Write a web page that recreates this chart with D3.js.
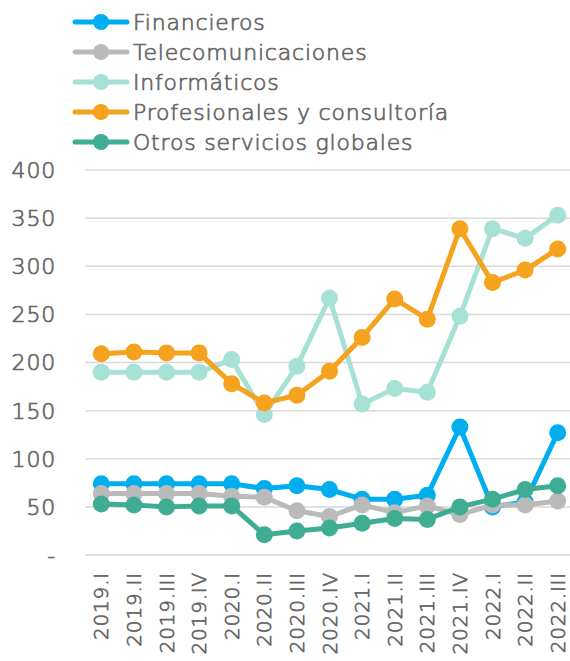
<!DOCTYPE html>
<html>
<head>
<meta charset="utf-8">
<script src="https://cdn.jsdelivr.net/npm/d3@7"></script>
<style>
  body { margin: 0; background: #fff; }
  text { font-family: "DejaVu Sans", sans-serif; font-weight: 200; fill: #666; stroke: #666; stroke-width: 0.7px; }
</style>
</head>
<body>
<svg id="chart"></svg>
<script>
// quarters on the x axis
const quarters =
    [ '2019.I', '2019.II', '2019.III', '2019.IV'
    , '2020.I', '2020.II', '2020.III', '2020.IV'
    , '2021.I', '2021.II', '2021.III', '2021.IV'
    , '2022.I', '2022.II', '2022.III'
    ]

const financieros    = [74, 74, 74, 74, 74, 69, 72, 68, 58, 58, 62, 133, 50, 55, 127]
const telecom        = [64, 64, 64, 64, 61, 60, 46, 40, 52, 44, 51, 42, 52, 52, 56]
const informaticos   = [190, 190, 190, 190, 203, 146, 196, 267, 157, 173, 169, 248, 339, 329, 353]
const profesionales  = [209, 211, 210, 210, 178, 158, 166, 191, 226, 266, 245, 339, 283, 296, 318]
const otros          = [53, 52, 50, 51, 51, 21, 25, 28, 33, 38, 37, 50, 58, 68, 72]

const yTicks = [0, 50, 100, 150, 200, 250, 300, 350, 400]

const series =
    [ { name: 'Financieros',                 color: '#00aeef', values: financieros }
    , { name: 'Telecomunicaciones',          color: '#bababa', values: telecom }
    , { name: 'Informáticos',                color: '#a7e1d6', values: informaticos }
    , { name: 'Profesionales y consultoría', color: '#f5a21f', values: profesionales }
    , { name: 'Otros servicios globales',    color: '#3fac94', values: otros }
    ]

const width  = 570
const height = 661

const svg = d3.select('#chart')
    .attr('width', width)
    .attr('height', height)

const x = d3.scalePoint()
    .domain(quarters)
    .range([85, 574])
    .padding(0.5)

const y = d3.scaleLinear()
    .domain([0, 400])
    .range([555, 170])

// gridlines
svg.append('g')
    .selectAll('line')
    .data(yTicks)
    .enter()
    .append('line')
    .attr('x1', 85)
    .attr('x2', width)
    .attr('y1', d => y(d))
    .attr('y2', d => y(d))
    .attr('stroke', '#d9d9d9')
    .attr('stroke-width', 1.5)

// y labels, zero shown as a dash
svg.append('g')
    .selectAll('text')
    .data(yTicks)
    .enter()
    .append('text')
    .attr('x', 56)
    .attr('y', d => y(d))
    .attr('dy', '0.36em')
    .attr('text-anchor', 'end')
    .style('font-size', '22px')
    .style('letter-spacing', '0.8px')
    .text(d => d === 0 ? '-' : d)

// x labels, rotated
svg.append('g')
    .selectAll('text')
    .data(quarters)
    .enter()
    .append('text')
    .attr('transform', d => 'translate(' + (x(d) + 7) + ',572) rotate(-90)')
    .attr('text-anchor', 'end')
    .style('font-size', '20px')
    .style('letter-spacing', '0.8px')
    .text(d => d)

const line = d3.line()
    .x((d, i) => x(quarters[i]))
    .y(d => y(d))

// one group per series: line then markers
const groups = svg.selectAll('g.series')
    .data(series)
    .enter()
    .append('g')
    .attr('class', 'series')

groups.append('path')
    .attr('d', s => line(s.values))
    .attr('fill', 'none')
    .attr('stroke', s => s.color)
    .attr('stroke-width', 5)
    .attr('stroke-linejoin', 'round')

groups.selectAll('circle')
    .data(s => s.values.map((v, i) => ({ v: v, q: quarters[i], color: s.color })))
    .enter()
    .append('circle')
    .attr('cx', d => x(d.q))
    .attr('cy', d => y(d.v))
    .attr('r', 8.5)
    .attr('fill', d => d.color)

// legend
const legend = svg.append('g')
    .selectAll('g')
    .data(series)
    .enter()
    .append('g')
    .attr('transform', (d, i) => 'translate(0,' + (22 + i * 30) + ')')

legend.append('line')
    .attr('x1', 75)
    .attr('x2', 127)
    .attr('stroke', d => d.color)
    .attr('stroke-width', 5)
    .attr('stroke-linecap', 'round')

legend.append('circle')
    .attr('cx', 101)
    .attr('r', 8)
    .attr('fill', d => d.color)

legend.append('text')
    .attr('x', 133)
    .attr('dy', '0.36em')
    .style('font-size', '22px')
    .style('letter-spacing', '0.8px')
    .text(d => d.name)
</script>
</body>
</html>
